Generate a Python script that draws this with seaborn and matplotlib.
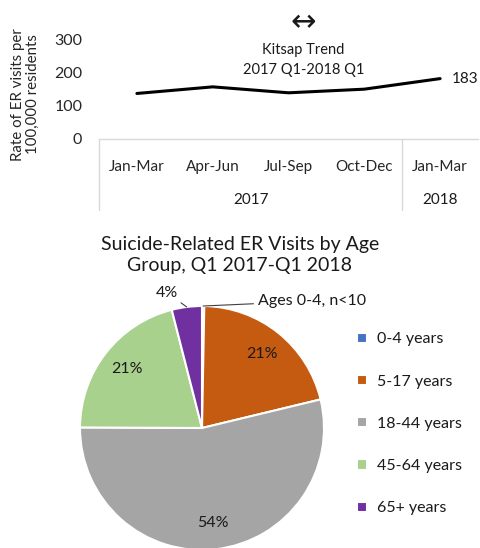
import numpy as np
import pandas as pd
import matplotlib
matplotlib.use("Agg")
import matplotlib.pyplot as plt
import seaborn as sns

# Quarterly ER visit rate (per 100,000 residents)
quarters = ['Jan-Mar', 'Apr-Jun', 'Jul-Sep', 'Oct-Dec', 'Jan-Mar']
years = ['2017', '2017', '2017', '2017', '2018']
rates = [138, 158, 140, 151, 183]

# Age group shares (%)
age_groups = ['0-4 years', '5-17 years', '18-44 years', '45-64 years', '65+ years']
age_shares = [0.3, 21, 54, 21, 4]
age_colors = ['#4472C4', '#C55A11', '#A5A5A5', '#A9D18E', '#7030A0']

sns.set_style('white')
plt.rcParams['font.family'] = ['Lato', 'DejaVu Sans']
plt.rcParams['text.color'] = '#1a1a1a'

fig = plt.figure(figsize=(4.81, 5.48), dpi=100)
W, H = 481, 548

# ---- line chart ----
ax = fig.add_axes([99 / W, 1 - 139 / H, 379 / W, 99 / H])
df = pd.DataFrame({'pos': range(len(rates)), 'rate': rates})
sns.lineplot(data=df, x='pos', y='rate', color='black', linewidth=2.2, ax=ax)
ax.set_xlim(-0.5, 4.5)
ax.set_ylim(0, 300)
ax.set_yticks([0, 100, 200, 300])
ax.tick_params(axis='y', labelsize=11.5, length=0, pad=12)
ax.set_xticks(range(len(quarters)))
ax.set_xticklabels(quarters, fontsize=11)
ax.tick_params(axis='x', length=0, pad=15)
ax.set_xlabel('')
ax.set_ylabel('Rate of ER visits per\n100,000 residents', fontsize=10.8, linespacing=1.1)
ax.yaxis.set_label_coords(-0.156, 0.45)
for s in ['top', 'right', 'left']:
    ax.spines[s].set_visible(False)
ax.spines['bottom'].set_color('#d9d9d9')
ax.spines['bottom'].set_linewidth(1)

# category table lines and year labels
trans = ax.get_xaxis_transform()
for xv in [-0.5, 3.5]:
    ax.plot([xv, xv], [0, -0.72], transform=trans, color='#d9d9d9', lw=1, clip_on=False)
year_names = list(dict.fromkeys(years))
for yr in year_names:
    idx = [i for i, y in enumerate(years) if y == yr]
    ax.text(np.mean(idx), -0.615, yr, transform=trans, ha='center', va='center', fontsize=11)

ax.annotate(str(rates[-1]), (len(rates) - 1, rates[-1]), xytext=(8.5, 0),
            textcoords='offset points', ha='left', va='center', fontsize=11)
ax.text(2.2, 1.18, '\u2194', transform=trans, ha='center', va='center', fontsize=22,
        family=['DejaVu Sans'])
ax.text(2.2, 0.80, 'Kitsap Trend\n2017 Q1-2018 Q1', transform=trans, ha='center',
        va='center', fontsize=10.5, linespacing=1.5)

# ---- pie chart ----
fig.text(240 / W, 1 - 255 / H, 'Suicide-Related ER Visits by Age\nGroup, Q1 2017-Q1 2018',
         ha='center', va='center', fontsize=14, linespacing=1.3)

pax = fig.add_axes([80 / W, 1 - 550 / H, 244 / W, 244 / H])
wedges, texts, autotexts = pax.pie(
    age_shares, colors=age_colors, startangle=90, counterclock=False,
    autopct=lambda p: f'{p:.0f}%' if p > 10 else '', pctdistance=0.78,
    wedgeprops=dict(edgecolor='white', linewidth=1.5),
    textprops=dict(fontsize=11.5))
pax.set_xlim(-1, 1)
pax.set_ylim(-1, 1)
pax.set_aspect('equal')

# small-slice callouts
w4 = wedges[4]
ang = np.deg2rad((w4.theta1 + w4.theta2) / 2)
pax.annotate(f'{age_shares[4]:.0f}%', (np.cos(ang), np.sin(ang)), xytext=(-0.29, 1.11),
             ha='center', va='center', fontsize=11.5,
             arrowprops=dict(arrowstyle='-', color='#404040', lw=0.8, shrinkB=0, shrinkA=6),
             annotation_clip=False)
w0 = wedges[0]
ang0 = np.deg2rad((w0.theta1 + w0.theta2) / 2)
pax.annotate('Ages 0-4, n<10', (np.cos(ang0), np.sin(ang0)), xytext=(0.46, 1.04),
             ha='left', va='center', fontsize=11.5,
             arrowprops=dict(arrowstyle='-', color='#404040', lw=0.8, shrinkB=0, shrinkA=1),
             annotation_clip=False)

fig.legend(wedges, age_groups, loc='upper left', bbox_to_anchor=(343 / W, 1 - 318 / H),
           frameon=False, fontsize=11.5, handlelength=0.6, handleheight=0.6,
           handletextpad=0.6, labelspacing=1.77)

fig.savefig('out.png', dpi=100)
